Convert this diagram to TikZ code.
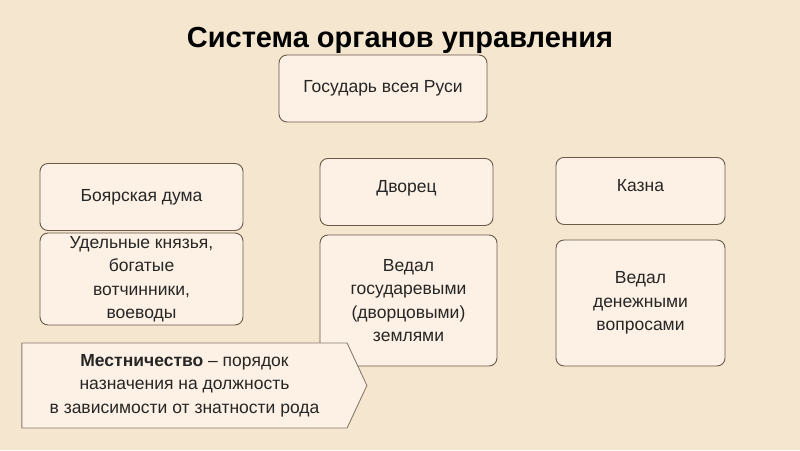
\documentclass[tikz,border=0pt]{standalone}
\usepackage{fontspec}
\setmainfont{Liberation Sans}
\usetikzlibrary{shapes.symbols}
\definecolor{bg}{HTML}{F4E6CF}
\definecolor{boxfill}{HTML}{FCF1E4}
\definecolor{boxline}{HTML}{6B5A4A}
\tikzset{
  box/.style={draw=boxline,fill=boxfill,rounded corners=8pt,line width=0.9pt,align=center,
    inner sep=2pt,font=\fontsize{17.5}{23.5}\selectfont,text=black!85},
}
\begin{document}
\begin{tikzpicture}[x=1pt,y=-1pt]
\fill[bg] (0,0) rectangle (800,450);
\useasboundingbox (0,0) rectangle (800,450);
\node[font=\bfseries\fontsize{29}{32}\selectfont] (title) at (400,40) {Система органов управления};
\node[box,minimum width=208pt,minimum height=67pt] (gos) at (383,88.5) {Государь всея Руси};
\node[box,minimum width=203pt,minimum height=67pt] (duma) at (141.5,197) {Боярская дума};
\node[box,minimum width=203pt,minimum height=92pt] (udel) at (141.5,279) {Удельные князья,\\богатые\\вотчинники,\\воеводы};
\node[box,minimum width=173pt,minimum height=67pt,anchor=north,text depth=10pt] (dvor) at (406.5,158) {Дворец};
\node[box,minimum width=177pt,minimum height=131pt] (vedg) at (408.5,300.5) {Ведал\\государевыми\\(дворцовыми)\\землями};
\node[box,minimum width=169pt,minimum height=67pt,anchor=north,text depth=10pt] (kazna) at (640.5,157) {Казна};
\node[box,minimum width=169pt,minimum height=126pt] (vedd) at (640.5,303) {Ведал\\денежными\\вопросами};
\node[draw=boxline!80,fill=boxfill,line width=0.9pt,signal,signal to=east,signal pointer angle=130,
  minimum width=345pt,minimum height=85pt,align=center,inner sep=2pt,text=black!85,
  font=\fontsize{17.5}{23.5}\selectfont] (mest) at (184.5,385.5)
  {\textbf{Местничество} – порядок\\назначения на должность\\в зависимости от знатности рода};
\end{tikzpicture}
\end{document}
